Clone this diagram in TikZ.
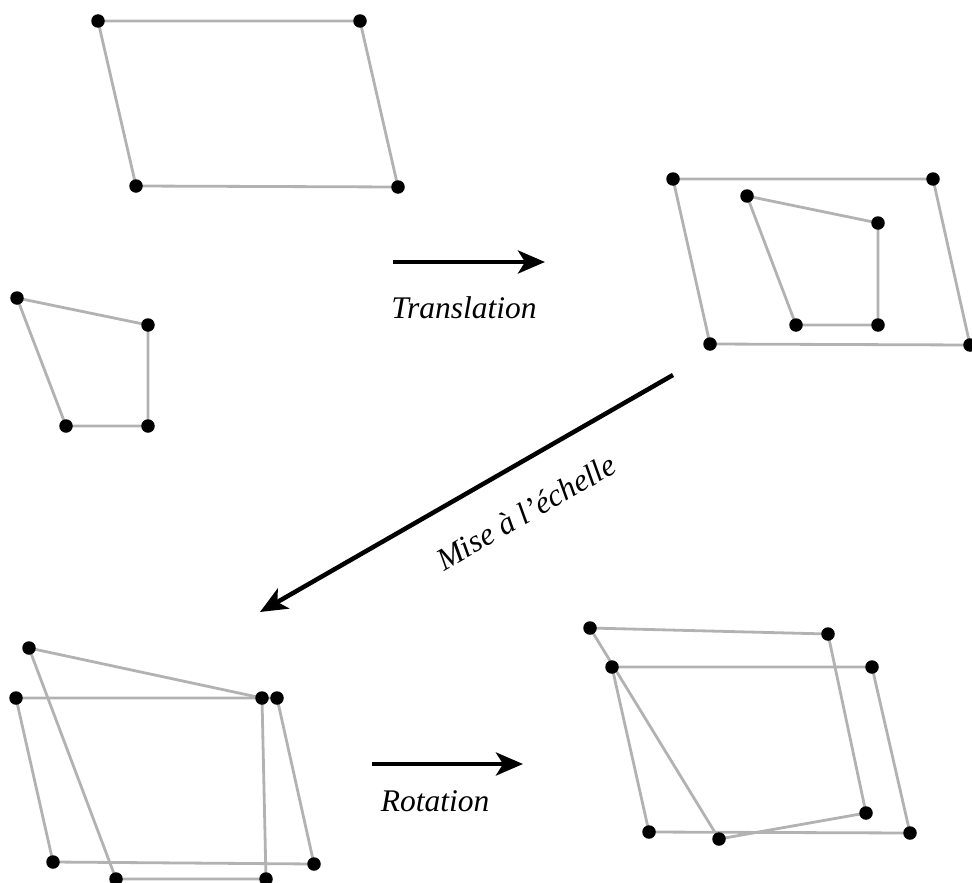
\documentclass[tikz,border=0pt]{standalone}
\usepackage{fontspec}
\setmainfont{Liberation Serif}
\usetikzlibrary{arrows.meta}
\begin{document}
\begin{tikzpicture}[x=1pt,y=-1pt,
  edge/.style={draw=black!30,line width=2.8pt},
  dotmark/.style={circle,fill=black,inner sep=0pt,minimum size=13.5pt},
  bigarrow/.style={line width=4.5pt,-{Stealth[length=27pt,width=23pt,inset=7pt]}},
  lab/.style={font=\fontsize{31.5}{38}\selectfont\itshape}]
\useasboundingbox (0,0) rectangle (972,883);
% top-left parallelogram
\coordinate (p1) at (98,21); \coordinate (p2) at (360,21);
\coordinate (p3) at (398,187); \coordinate (p4) at (136,186);
% small quad
\coordinate (q1) at (17,298); \coordinate (q2) at (148,325);
\coordinate (q3) at (148,426); \coordinate (q4) at (66,426);
% top-right
\coordinate (r1) at (673,179); \coordinate (r2) at (933,179);
\coordinate (r3) at (970,345); \coordinate (r4) at (710,344);
\coordinate (s1) at (747,196); \coordinate (s2) at (878,223);
\coordinate (s3) at (878,325); \coordinate (s4) at (796,325);
% bottom-left
\coordinate (u1) at (16,698); \coordinate (u2) at (277,698);
\coordinate (u3) at (314,864); \coordinate (u4) at (53,862);
\coordinate (v1) at (29,648); \coordinate (v2) at (262,698);
\coordinate (v3) at (266,879); \coordinate (v4) at (116,879);
% bottom-right
\coordinate (w1) at (612,667); \coordinate (w2) at (872,667);
\coordinate (w3) at (910,833); \coordinate (w4) at (649,832);
\coordinate (z1) at (590,628); \coordinate (z2) at (828,634);
\coordinate (z3) at (866,813); \coordinate (z4) at (719,839);

\foreach \n in {p,q,r,s,u,v,w,z}{
  \draw[edge] (\n1) -- (\n2) -- (\n3) -- (\n4) -- cycle;
}
\foreach \n in {p,q,r,s,u,v,w,z}{
  \foreach \i in {1,2,3,4}{
    \node[dotmark] (d\n\i) at (\n\i) {};
  }
}

% arrows
\coordinate (ta) at (393,262); \coordinate (tb) at (545,262);
\draw[bigarrow] (ta) -- (tb);
\node[lab] (tl) at (464,308) {Translation};

\coordinate (ma) at (673,375); \coordinate (mb) at (260,612);
\draw[bigarrow] (ma) -- (mb);
\node[lab,rotate=29.8] (ml) at (526,512) {Mise à l’échelle};

\coordinate (ra) at (372,764); \coordinate (rb) at (523,764);
\draw[bigarrow] (ra) -- (rb);
\node[lab] (rl) at (435,801) {Rotation};
\end{tikzpicture}
\end{document}
